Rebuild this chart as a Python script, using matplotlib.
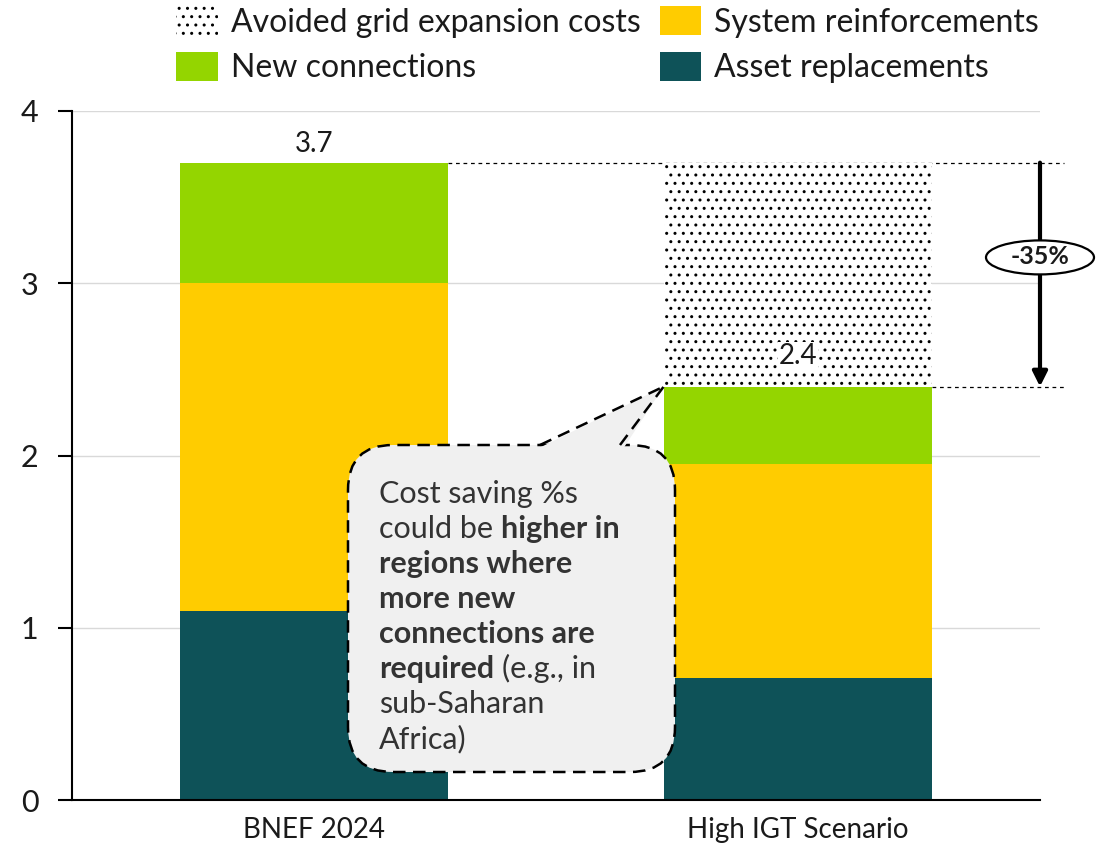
import matplotlib
matplotlib.use("Agg")
import matplotlib.pyplot as plt
import numpy as np
from matplotlib.patches import Patch, FancyBboxPatch, Polygon, Ellipse
from matplotlib.transforms import IdentityTransform

plt.rcParams["font.family"] = ["Lato", "DejaVu Sans"]
plt.rcParams["hatch.linewidth"] = 1.0

# ----------------------------------------------------------------------
# Data
# ----------------------------------------------------------------------
categories = ["BNEF 2024", "High IGT Scenario"]
asset_replacements = np.array([1.10, 0.71])
system_reinforcements = np.array([1.90, 1.24])
new_connections = np.array([0.70, 0.45])

totals = asset_replacements + system_reinforcements + new_connections
avoided = totals[0] - totals[1]
change_pct = (totals[1] - totals[0]) / totals[0] * 100

TEAL = "#0E5258"
YELLOW = "#FFCC00"
GREEN = "#94D500"
TXT = "#1a1a1a"
HATCH = ".."

fig = plt.figure(figsize=(11.01, 8.43), dpi=100)
W, H = 1101, 843
ax = fig.add_axes([72 / W, 1 - 800 / H, (1040 - 72) / W, (800 - 111) / H])

x = np.arange(len(categories))
w = 0.555
ax.bar(x, asset_replacements, w, color=TEAL, zorder=2)
ax.bar(x, system_reinforcements, w, bottom=asset_replacements, color=YELLOW, zorder=2)
ax.bar(x, new_connections, w, bottom=asset_replacements + system_reinforcements,
       color=GREEN, zorder=2)
ax.bar(x[1], avoided, w, bottom=totals[1], facecolor="white", edgecolor="black",
       lw=0, hatch=HATCH, zorder=2)

# value labels
for xi, tot, off in zip(x, totals, [4, 13]):
    ax.annotate(f"{tot:.1f}", (xi, tot), xytext=(0, off), textcoords="offset points",
                ha="center", va="bottom", fontsize=20, color=TXT, zorder=3,
                bbox=dict(boxstyle="square,pad=0.02", fc="white", ec="none"))

# dashed reference lines + arrow
x_end = 1.55
ax.plot([x[0] + w / 2, x_end], [totals[0]] * 2, ls=(0, (3, 3)), lw=0.9,
        color="black", clip_on=False, zorder=1)
ax.plot([x[1] + w / 2, x_end], [totals[1]] * 2, ls=(0, (3, 3)), lw=0.9,
        color="black", clip_on=False, zorder=1)
ax.annotate("", xy=(1.5, totals[1]), xytext=(1.5, totals[0]),
            arrowprops=dict(arrowstyle="-|>", lw=3, color="black",
                            mutation_scale=22, shrinkA=0, shrinkB=0), zorder=4)

# axes styling
ax.set_xlim(-0.5, 1.5)
ax.set_ylim(0, 4)
ax.set_yticks([0, 1, 2, 3, 4])
ax.set_xticks(x)
ax.set_xticklabels(categories, fontsize=20, color=TXT)
ax.tick_params(axis="x", length=0, pad=12)
ax.tick_params(axis="y", length=10, width=1.5, labelsize=22, pad=14, labelcolor=TXT)
ax.grid(True, axis="y", color="#d9d9d9", lw=1, zorder=0)
ax.set_axisbelow(True)
for sp in ["top", "right"]:
    ax.spines[sp].set_visible(False)
for sp in ["left", "bottom"]:
    ax.spines[sp].set_linewidth(1.5)

# legend
handles = [
    Patch(facecolor="white", edgecolor="black", lw=0, hatch=HATCH),
    Patch(facecolor=GREEN),
    Patch(facecolor=YELLOW),
    Patch(facecolor=TEAL),
]
labels = ["Avoided grid expansion costs", "New connections",
          "System reinforcements", "Asset replacements"]
fig.legend(handles, labels, ncol=2, loc="upper left", bbox_to_anchor=(170 / W, 1.0),
           frameon=False, fontsize=23, handlelength=1.3, handleheight=1.0,
           handletextpad=0.4, columnspacing=0.6, labelspacing=0.45,
           borderaxespad=0.1, borderpad=0.1, labelcolor=TXT)

# ----------------------------------------------------------------------
# Pixel-space annotations (origin at bottom-left, 1 unit = 1 px)
# ----------------------------------------------------------------------
fig.canvas.draw()
ident = IdentityTransform()

# -35% ellipse badge
cx, cy = ax.transData.transform((1.5, (totals[0] + totals[1]) / 2 + 0.1))
fig.add_artist(Ellipse((cx, cy), 108, 34, transform=ident, fc="white", ec="black",
                       lw=1.6, zorder=5))
fig.text(cx, cy + 1, f"{change_pct:.0f}%", transform=ident, ha="center", va="center",
         fontsize=18, fontweight="bold", color=TXT, zorder=6)

# callout bubble
BOX_FC = "#f0f0f0"
dash = (0, (5, 3))
bx0, by0, bx1, by1 = 348, 445, 675, 772
box = FancyBboxPatch((bx0, H - by1), bx1 - bx0, by1 - by0,
                     boxstyle="round,pad=0,rounding_size=45", transform=ident,
                     fc=BOX_FC, ec="black", lw=1.8, ls=dash, zorder=6)
fig.add_artist(box)
tip = ax.transData.transform((x[1] - w / 2, totals[1]))
b_left, b_right = 540, 620
tri = Polygon([(b_left - 3, H - by0 - 4), (b_right + 3, H - by0 - 4), tip],
              closed=True, transform=ident, fc=BOX_FC, ec="none", zorder=7)
fig.add_artist(tri)
for bx in (b_left, b_right):
    fig.add_artist(plt.Line2D([bx, tip[0]], [H - by0, tip[1]], transform=ident,
                              color="black", lw=1.8, ls=dash, zorder=8))

lines = [
    [("Cost saving %s", "normal")],
    [("could be", "normal"), ("higher in", "bold")],
    [("regions where", "bold")],
    [("more new", "bold")],
    [("connections are", "bold")],
    [("required", "bold"), ("(e.g., in", "normal")],
    [("sub-Saharan", "normal")],
    [("Africa)", "normal")],
]
CALL_TXT = "#333333"
for i, segs in enumerate(lines):
    y = H - (503 + 35 * i)
    prev = None
    for s, wt in segs:
        if prev is None:
            prev = fig.text(379, y, s, transform=ident, fontsize=22, fontweight=wt,
                            color=CALL_TXT, va="baseline", zorder=9)
        else:
            prev = fig.add_artist(matplotlib.text.Annotation(
                s, xy=(1, 0), xycoords=prev, xytext=(6, 0), textcoords="offset points",
                fontsize=22, fontweight=wt, color=CALL_TXT, va="bottom", zorder=9))

fig.savefig("out.png", dpi=100)
